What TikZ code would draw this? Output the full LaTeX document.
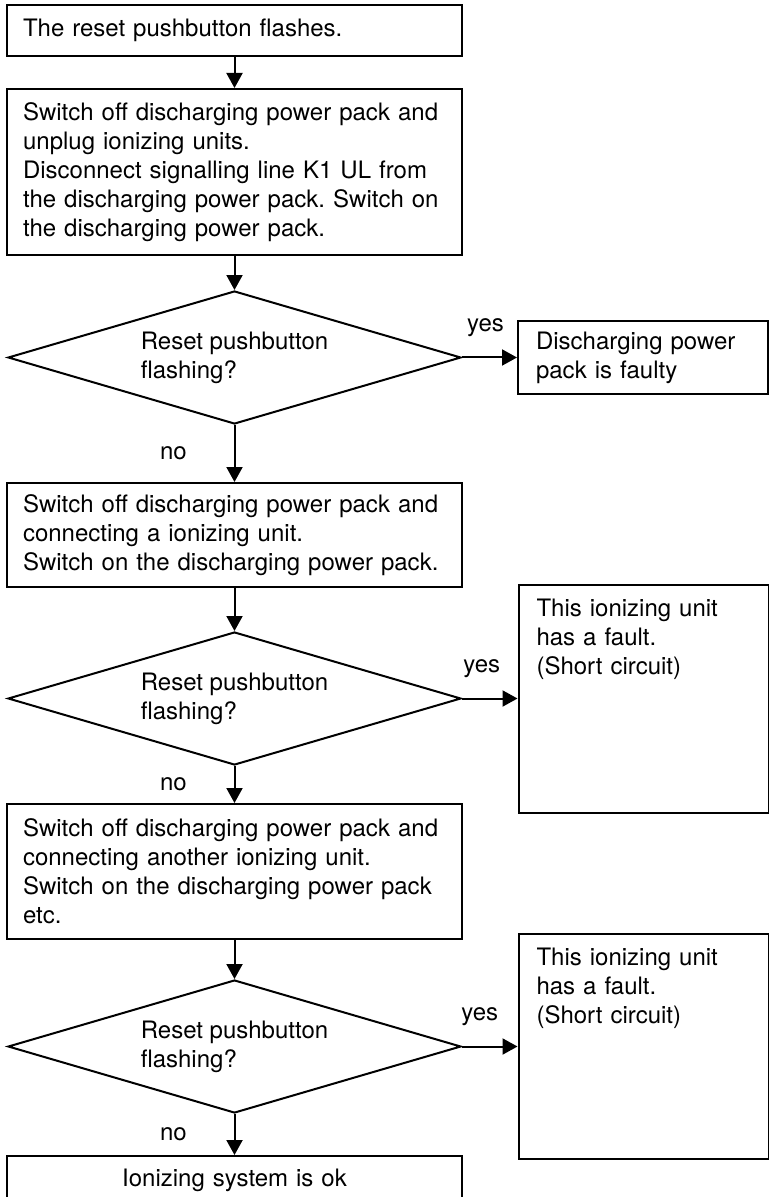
\documentclass[tikz,border=0pt]{standalone}
\usepackage{fontspec}
\setmainfont{TeX Gyre Heros}
\usepackage{tikz}
\usetikzlibrary{shapes.geometric, arrows.meta}
\frenchspacing

\tikzset{
  stepbox/.style={draw, line width=1pt, rectangle, align=left, text width=211.5pt, inner xsep=8pt, minimum width=227.5pt},
  query/.style={draw, line width=1pt, diamond, aspect=3.4, align=left, inner sep=1pt, minimum width=226.5pt, minimum height=66.5pt},
  resultbox/.style={draw, line width=1pt, rectangle, align=left, text width=107pt, inner xsep=9pt, minimum width=125pt},
  faultbox/.style={resultbox, inner ysep=7.25pt, text height=8.6pt, text depth=#1},
  flow/.style={-{Triangle[length=7.5pt,width=8pt]}, line width=1pt},
}

\begin{document}
\begin{tikzpicture}[x=0.5pt, y=-0.5pt, font=\fontsize{12pt}{14.5pt}\selectfont]

\useasboundingbox (0,0) rectangle (769,1197);

% Steps of the check (left column)
\node[stepbox, minimum height=25.5pt] (flash) at (234.5,30.5) {The reset pushbutton flashes.};
\node[stepbox, minimum height=83pt] (unplug) at (234.5,172) {Switch off discharging power pack and\\ unplug ionizing units.\\ Disconnect signalling line K1 UL from\\ the discharging power pack. Switch on\\ the discharging power pack.};
\node[query] (check1) at (234.5,357.5) {Reset pushbutton\\ flashing?};
\node[stepbox, minimum height=52pt] (first) at (234.5,535) {Switch off discharging power pack and\\ connecting a ionizing unit.\\ Switch on the discharging power pack.};
\node[query] (check2) at (234.5,698.5) {Reset pushbutton\\ flashing?};
\node[stepbox, minimum height=67.5pt] (another) at (234.5,871.5) {Switch off discharging power pack and\\ connecting another ionizing unit.\\ Switch on the discharging power pack\\ etc.};
\node[query] (check3) at (234.5,1046.5) {Reset pushbutton\\ flashing?};
\node[stepbox, align=center, minimum height=24pt] (ok) at (234.5,1180) {Ionizing system is ok};

% Results (right column)
\node[resultbox, minimum height=36.5pt] (faulty) at (643,357.5) {Discharging power\\ pack is faulty};
\node[faultbox=90.9pt] (fault1) at (643.5,698.5) {This ionizing unit\\ has a fault.\\ (Short circuit)};
\node[faultbox=89.4pt] (fault2) at (643.5,1046.5) {This ionizing unit\\ has a fault.\\ (Short circuit)};

% Connectors
\draw[flow] (flash) -- (unplug);
\draw[flow] (unplug) -- (check1);
\draw[flow] (check1) -- node[above=6.5pt, xshift=-2pt] {yes} (faulty);
\draw[flow] (check1) -- node[left=20pt] {no} (first);
\draw[flow] (first) -- (check2);
\draw[flow] (check2) -- node[above=6.5pt, xshift=-4pt] {yes} (fault1);
\draw[flow] (check2) -- node[left=20pt] {no} (another);
\draw[flow] (another) -- (check3);
\draw[flow] (check3) -- node[above=6.5pt, xshift=-5pt] {yes} (fault2);
\draw[flow] (check3) -- node[left=20pt] {no} (ok);

\end{tikzpicture}
\end{document}
